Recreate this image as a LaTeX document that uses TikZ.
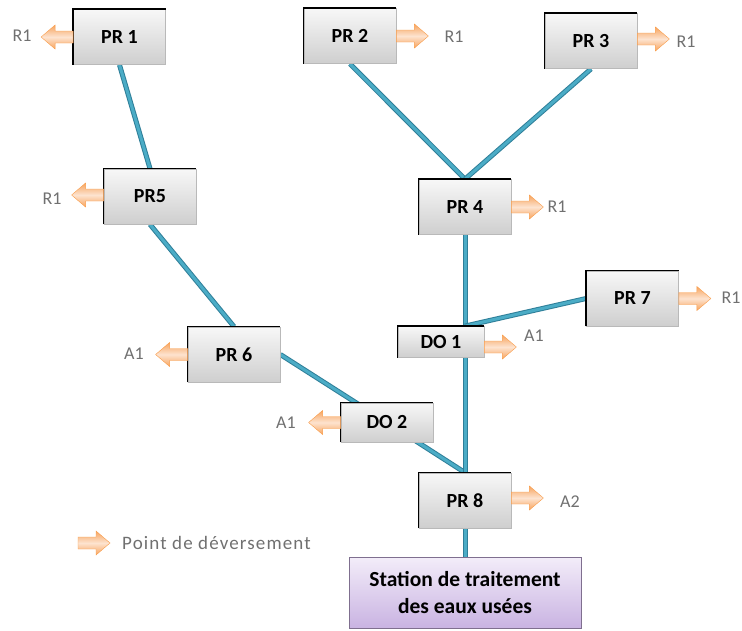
\documentclass[tikz,border=0pt]{standalone}
\usepackage{fontspec}
\setmainfont{Carlito}
\usetikzlibrary{backgrounds}

\definecolor{pipefill}{HTML}{4BACC6}
\definecolor{pipeedge}{HTML}{2F7F99}
\definecolor{spilllight}{HTML}{FDE3CF}
\definecolor{spilldark}{HTML}{F7A45E}
\definecolor{lbltext}{HTML}{707070}
\definecolor{stnlight}{HTML}{F3EDF9}
\definecolor{stndark}{HTML}{C9B3E2}
\definecolor{stnedge}{HTML}{7F6F8F}

\tikzset{
  x=1pt, y=-1pt,
  station/.style={minimum width=92pt, minimum height=55pt, inner sep=0pt,
    top color=gray!6, bottom color=gray!38, draw=gray!55, line width=0.8pt,
    font=\bfseries\fontsize{20}{22}\selectfont},
  weir/.style={station, minimum height=39pt},
  plant/.style={minimum width=232pt, minimum height=71pt, inner sep=0pt,
    top color=stnlight, bottom color=stndark, draw=stnedge, line width=0.8pt,
    align=center, font=\bfseries\fontsize{21.5}{27}\selectfont},
  bevel/.style={draw=black, line width=1.6pt},
  pipe/.style={draw=pipeedge, double=pipefill, double distance=3pt, line width=1pt},
  outlet/.style={text=lbltext, font=\fontsize{18}{18}\selectfont, inner sep=0pt},
  spill/.pic={
    \shade[top color=spilldark, bottom color=spilldark, middle color=spilllight,
      draw=spilldark!80!orange, line width=0.4pt]
      (0,-6) -- (18,-6) -- (18,-12) -- (32,0) -- (18,12) -- (18,6) -- (0,6) -- cycle;
  }
}

\begin{document}
\begin{tikzpicture}
\useasboundingbox (0,0) rectangle (742,630);

% pumping stations and overflow weirs
\node[station] (pr1) at (119.5,37) {PR 1};
\node[station] (pr2) at (350,36) {PR 2};
\node[station] (pr3) at (591,41) {PR 3};
\node[station] (pr5) at (150,196.5) {PR5};
\node[station] (pr6) at (234,354.5) {PR 6};
\node[station] (pr4) at (465,207) {PR 4};
\node[station] (pr7) at (632.5,298.5) {PR 7};
\node[weir, minimum width=86pt, minimum height=31pt] (do1) at (441,342) {DO 1};
\node[weir] (do2) at (387,422.5) {DO 2};
\node[station] (pr8) at (465,500.5) {PR 8};
\node[plant] (stn) at (465,592.5) {Station de traitement\\des eaux usées};

% dark bevel on the top and left edges
\foreach \b in {pr1,pr2,pr3,pr4,pr5,pr6,pr7,pr8,do1,do2}
  \draw[bevel] (\b.south west) |- (\b.north east);

% network pipes, behind the boxes
\coordinate (j1) at (pr4.south |- do1.north);
\begin{scope}[on background layer]
  \draw[pipe] (pr1.south) -- (pr5.north);
  \draw[pipe] (pr5.south) -- (pr6.north);
  \draw[pipe] (pr6.east) -- (do2.center) -- (pr8.north);
  \draw[pipe] (pr2.south) -- (pr4.north);
  \draw[pipe] (pr3.south) -- (pr4.north);
  \draw[pipe] (pr4.south) -- (pr8.north);
  \draw[pipe] (pr7.west) -- (j1);
  \draw[pipe] (pr8.south) -- (stn.north);
\end{scope}

% overflow outlets
\pic[rotate=180] at (pr1.west) {spill};
\pic at (pr2.east) {spill};
\pic at ([yshift=2pt]pr3.east) {spill};
\pic[rotate=180] at ([yshift=1.5pt]pr5.west) {spill};
\pic[rotate=180] at (pr6.west) {spill};
\pic at (pr4.east) {spill};
\pic at (pr7.east) {spill};
\pic at ([yshift=-5pt]do1.east) {spill};
\pic[rotate=180] at (do2.west) {spill};
\pic at ([yshift=2.5pt]pr8.east) {spill};

\node[outlet] (o1) at (22,36) {R1};
\node[outlet] (o2) at (454,37) {R1};
\node[outlet] (o3) at (686,42) {R1};
\node[outlet] (o5) at (52,199) {R1};
\node[outlet] (o6) at (134,354) {A1};
\node[outlet] (o4) at (557,207) {R1};
\node[outlet] (o7) at (731,298) {R1};
\node[outlet] (od1) at (534,336) {A1};
\node[outlet] (od2) at (286,423) {A1};
\node[outlet] (o8) at (570,502) {A2};

% legend
\coordinate (leg) at (78,543);
\pic at (leg) {spill};
\node[outlet, anchor=west, font=\fontsize{19}{19}\selectfont\addfontfeatures{LetterSpace=6}] (legtxt) at (122,543) {Point de déversement};
\end{tikzpicture}
\end{document}
